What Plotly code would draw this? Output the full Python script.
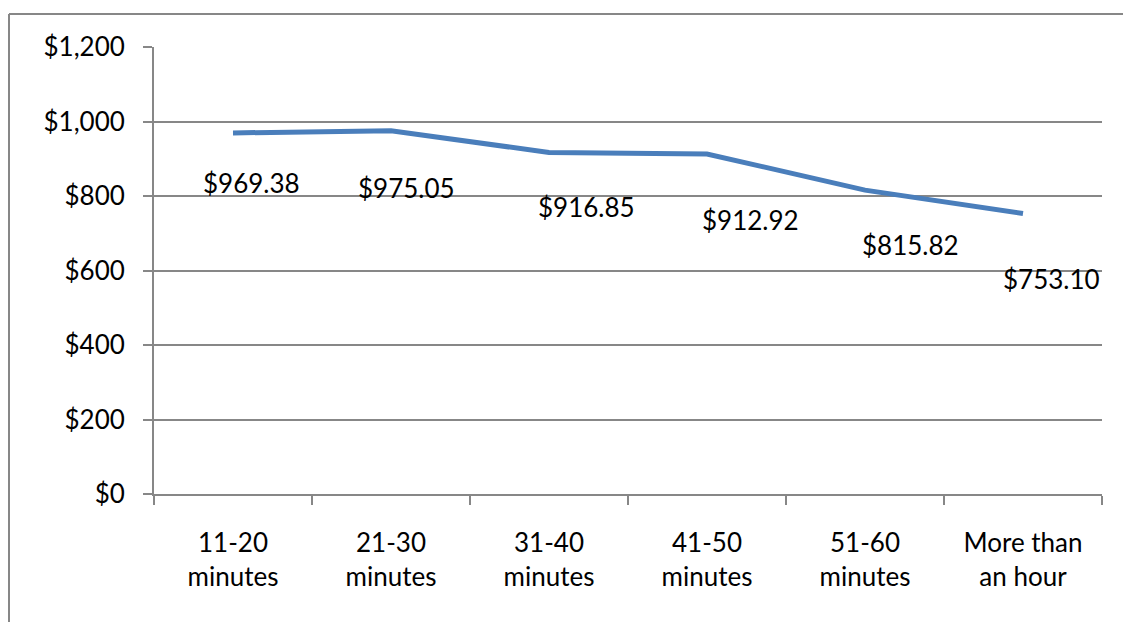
import plotly.graph_objects as go

# Commute-time bands and the average value for each
categories = ["11-20<br>minutes", "21-30<br>minutes", "31-40<br>minutes",
              "41-50<br>minutes", "51-60<br>minutes", "More than<br>an hour"]
values = [969.38, 975.05, 916.85, 912.92, 815.82, 753.10]
y_ticks = [0, 200, 400, 600, 800, 1000, 1200]
y_tick_labels = ["$0", "$200", "$400", "$600", "$800", "$1,000", "$1,200"]

# pixel nudges for each value label (right, up)
label_shift_x = [18, 15, 37, 43, 45, 28]
label_shift_y = [-50, -57, -55, -66, -55, -66]

W, H = 1123, 622
L, R, T, B = 154, 21, 47, 128
GRAY = "#878787"
FONT = "Lato"

fig = go.Figure()
fig.add_trace(go.Scatter(
    x=categories, y=values, mode="lines",
    line=dict(color="#4A7EBB", width=5),
    hoverinfo="skip", showlegend=False,
))

for cat, v, dx, dy in zip(categories, values, label_shift_x, label_shift_y):
    fig.add_annotation(
        x=cat, y=v, xref="x", yref="y", text=f"${v:,.2f}",
        showarrow=False, xshift=dx, yshift=dy,
        xanchor="center", yanchor="middle",
        font=dict(family=FONT, size=26, color="#000000"),
    )

# outer chart border (left and top edges)
pw, ph = W - L - R, H - T - B
def px_x(px):
    return (px - L) / pw
def px_y(py):
    return (H - B - py) / ph

fig.add_shape(type="line", xref="paper", yref="paper",
              x0=px_x(9), x1=px_x(W + 5), y0=px_y(14), y1=px_y(14),
              line=dict(color=GRAY, width=2))
fig.add_shape(type="line", xref="paper", yref="paper",
              x0=px_x(9), x1=px_x(9), y0=px_y(14), y1=px_y(H + 5),
              line=dict(color=GRAY, width=2))

fig.update_layout(
    width=W, height=H,
    margin=dict(l=L, r=R, t=T, b=B, pad=0),
    paper_bgcolor="white", plot_bgcolor="white",
    font=dict(family=FONT, size=26, color="#000000"),
    xaxis=dict(
        type="category", range=[-0.5, 5.5],
        showgrid=False, zeroline=False,
        showline=True, linecolor=GRAY, linewidth=2,
        ticks="outside", tickson="boundaries", ticklen=9,
        tickcolor=GRAY, tickwidth=2,
        ticklabelstandoff=25,
        tickfont=dict(family=FONT, size=26, color="#000000"),
    ),
    yaxis=dict(
        range=[0, 1200], tickvals=y_ticks, ticktext=y_tick_labels,
        showgrid=True, gridcolor=GRAY, gridwidth=2,
        zeroline=False,
        showline=True, linecolor=GRAY, linewidth=2,
        ticks="outside", ticklen=9, tickcolor=GRAY, tickwidth=2,
        ticklabelstandoff=13,
        tickfont=dict(family=FONT, size=26, color="#000000"),
    ),
)

fig.write_html("out.html")
